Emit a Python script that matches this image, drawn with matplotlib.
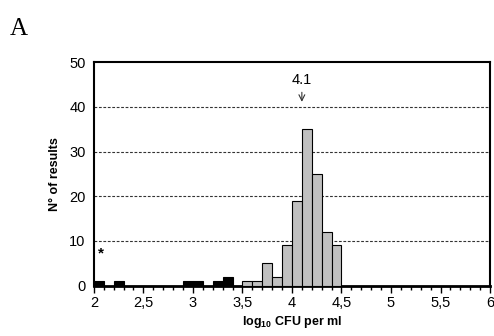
import matplotlib
matplotlib.use("Agg")
import matplotlib.pyplot as plt
import numpy as np

plt.rcParams['font.family'] = ['Liberation Sans', 'DejaVu Sans']
plt.rcParams['mathtext.fontset'] = 'custom'
plt.rcParams['mathtext.rm'] = 'Liberation Sans'
plt.rcParams['mathtext.bf'] = 'Liberation Sans:bold'

# bin left edges (log10 CFU per ml), bin width 0.1
black_left = [2.0, 2.2, 2.9, 3.0, 3.2, 3.3]
black_counts = [1, 1, 1, 1, 1, 2]
gray_left = [3.5, 3.6, 3.7, 3.8, 3.9, 4.0, 4.1, 4.2, 4.3, 4.4]
gray_counts = [1, 1, 5, 2, 9, 19, 35, 25, 12, 9]
bin_width = 0.1
x_ticks = [2, 2.5, 3, 3.5, 4, 4.5, 5, 5.5, 6]
x_tick_labels = ['2', '2,5', '3', '3,5', '4', '4,5', '5', '5,5', '6']
y_ticks = [0, 10, 20, 30, 40, 50]
median_value = 4.1

fig = plt.figure(figsize=(4.94, 3.36), dpi=100)
ax = fig.add_axes([0.190, 0.150, 0.802, 0.665])

for y in [10, 20, 30, 40]:
    ax.axhline(y, color='#333333', lw=0.8, ls=(0, (2.5, 1.5)), zorder=1)

ax.bar(black_left, black_counts, width=bin_width, align='edge', color='black',
       edgecolor='black', lw=0.8, zorder=3)
ax.bar(gray_left, gray_counts, width=bin_width, align='edge', color='#c0c0c0',
       edgecolor='black', lw=0.8, zorder=3)

ax.set_xlim(2, 6)
ax.set_ylim(0, 50)
ax.set_xticks(x_ticks)
ax.set_xticklabels(x_tick_labels, fontsize=10.5)
ax.set_xticks(np.arange(2, 6.01, 0.1), minor=True)
ax.set_yticks(y_ticks)
ax.set_yticklabels([str(v) for v in y_ticks], fontsize=10.5)
ax.tick_params(axis='y', length=0, pad=6)
ax.tick_params(axis='x', which='major', length=5, width=1, pad=2.5, direction='out')
ax.tick_params(axis='x', which='minor', length=3, width=1, direction='out')
for s in ax.spines.values():
    s.set_linewidth(1.5)
ax.spines['bottom'].set_linewidth(2)

ax.set_ylabel('N° of results', fontsize=9, fontweight='bold', labelpad=6)
ax.set_xlabel(r'log$_{\mathbf{10}}$ CFU per ml', fontsize=9, fontweight='bold', labelpad=3)

ax.annotate('4.1', xy=(median_value, 40.5), xytext=(median_value, 44.5),
            ha='center', va='bottom', fontsize=10.5,
            arrowprops=dict(arrowstyle='->', color='#333333', lw=0.8))
ax.text(2.07, 7.3, '*', ha='center', va='center', fontsize=11, fontweight='bold')

fig.text(0.02, 0.915, 'A', fontsize=18, family=['Liberation Serif', 'DejaVu Serif'],
         ha='left', va='center')

fig.savefig('out.png', dpi=100)
